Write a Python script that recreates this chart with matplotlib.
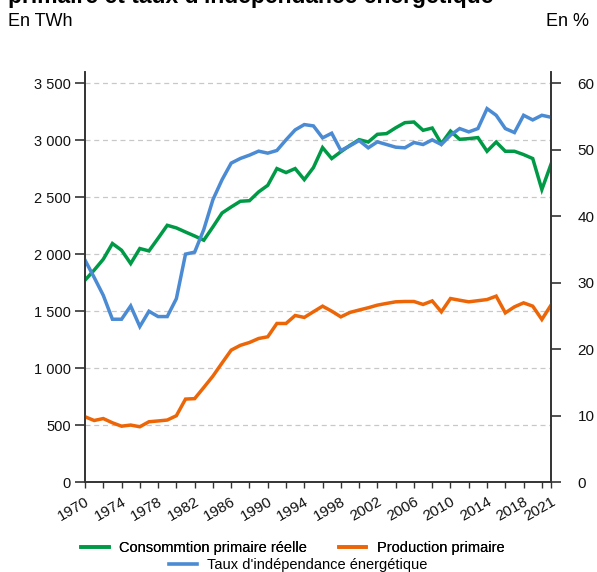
import matplotlib
matplotlib.use("Agg")
import matplotlib.pyplot as plt
from matplotlib.lines import Line2D
from matplotlib.ticker import FuncFormatter

plt.rcParams['font.family'] = ['Liberation Sans', 'DejaVu Sans']

# --Data
years = list(range(1970, 2022))

conso = [1772, 1860, 1956, 2094, 2035, 1918, 2050, 2029, 2140, 2254,
         2231, 2195, 2160, 2123, 2240, 2362, 2415, 2465, 2470, 2547,
         2605, 2752, 2717, 2752, 2655, 2761, 2936, 2840, 2900, 2956,
         3006, 2985, 3053, 3059, 3110, 3155, 3161, 3088, 3108, 2971,
         3081, 3009, 3015, 3024, 2904, 2985, 2904, 2904, 2875, 2840,
         2568, 2790]

prod = [573, 540, 557, 520, 490, 500, 485, 529, 536, 544,
        582, 728, 732, 830, 930, 1045, 1158, 1200, 1225, 1260,
        1275, 1392, 1392, 1462, 1445, 1495, 1544, 1500, 1450, 1489,
        1510, 1530, 1553, 1568, 1582, 1585, 1585, 1559, 1590, 1494,
        1611, 1596, 1582, 1592, 1602, 1632, 1485, 1538, 1573, 1544,
        1427, 1553]

taux = [33.4, 30.8, 28.1, 24.5, 24.5, 26.5, 23.4, 25.7, 24.9, 24.9,
        27.6, 34.3, 34.6, 38.0, 42.5, 45.5, 48.0, 48.7, 49.2, 49.8,
        49.5, 49.9, 51.5, 53.0, 53.8, 53.6, 51.8, 52.5, 49.9, 50.6,
        51.4, 50.3, 51.2, 50.8, 50.4, 50.3, 51.1, 50.8, 51.5, 50.8,
        52.2, 53.2, 52.7, 53.2, 56.2, 55.2, 53.2, 52.6, 55.2, 54.5,
        55.2, 54.9]

xtick_labels = [1970, 1974, 1978, 1982, 1986, 1990, 1994, 1998,
                2002, 2006, 2010, 2014, 2018, 2021]

GREEN = '#009a47'
ORANGE = '#ec6608'
BLUE = '#4a8bd3'
AXC = '#333333'

fig = plt.figure(figsize=(5.97, 5.72), dpi=100)
ax = fig.add_axes([85/597, 1-482/572, 466/597, 410/572])
ax2 = ax.twinx()

ax.plot(years, conso, color=GREEN, lw=2.5, solid_joinstyle='miter', zorder=3)
ax.plot(years, prod, color=ORANGE, lw=2.5, solid_joinstyle='miter', zorder=3)
ax2.plot(years, taux, color=BLUE, lw=2.5, solid_joinstyle='miter', zorder=2)

ax.set_xlim(1970, 2021)
ax.set_ylim(0, 3600)
ax2.set_ylim(0, 3600 * 60 / 3500)

ax.set_yticks(range(0, 3501, 500))
ax.yaxis.set_major_formatter(FuncFormatter(lambda v, p: f"{int(v):,}".replace(",", " ")))
ax2.set_yticks(range(0, 61, 10))

for y in range(500, 3501, 500):
    ax.axhline(y, color='#c8c8c8', lw=0.9, ls=(0, (4, 3)), zorder=1)

ax.set_xticks(list(range(1970, 2021, 2)) + [2021])
ax.set_xticklabels([str(t) if t in xtick_labels else '' for t in ax.get_xticks().astype(int)],
                   rotation=30, ha='right', va='top', rotation_mode='anchor')

for a in (ax, ax2):
    a.spines['top'].set_visible(False)
    for s in ('left', 'right', 'bottom'):
        a.spines[s].set_color(AXC)
        a.spines[s].set_linewidth(1.2)
    a.tick_params(colors='#111111', labelsize=10.5)

ax.tick_params(axis='y', direction='out', length=7, width=1.2, color=AXC, pad=3)
ax2.tick_params(axis='y', direction='out', length=7, width=1.2, color=AXC, pad=12, labelsize=11)
ax.tick_params(axis='x', direction='out', length=4, width=1, color=AXC, pad=5, labelsize=11)

# titles / units
fig.text(8/597, 1-3/572, "primaire et taux d'indépendance énergétique",
         fontsize=16.5, fontweight='bold', ha='left', va='baseline')
fig.text(8/597, 1-21/572, "En TWh", fontsize=13, ha='left', va='center')
fig.text(589/597, 1-21/572, "En %", fontsize=13, ha='right', va='center')

# legend
h1 = [Line2D([], [], color=GREEN, lw=2.6), Line2D([], [], color=ORANGE, lw=2.6)]
leg1 = fig.legend(h1, ["Consommtion primaire réelle", "Production primaire"],
                  ncol=2, loc='center', bbox_to_anchor=(0.49, 1-548/572),
                  frameon=False, fontsize=10.5, handlelength=1.9,
                  handletextpad=0.7, columnspacing=2.2, borderpad=0)
h2 = [Line2D([], [], color=BLUE, lw=2.6)]
leg2 = fig.legend(h2, ["Taux d'indépendance énergétique"],
                  loc='center', bbox_to_anchor=(0.50, 1-565/572),
                  frameon=False, fontsize=10.5, handlelength=1.9,
                  handletextpad=0.7, borderpad=0)
fig.add_artist(leg1)

fig.savefig("out.png", dpi=100)
